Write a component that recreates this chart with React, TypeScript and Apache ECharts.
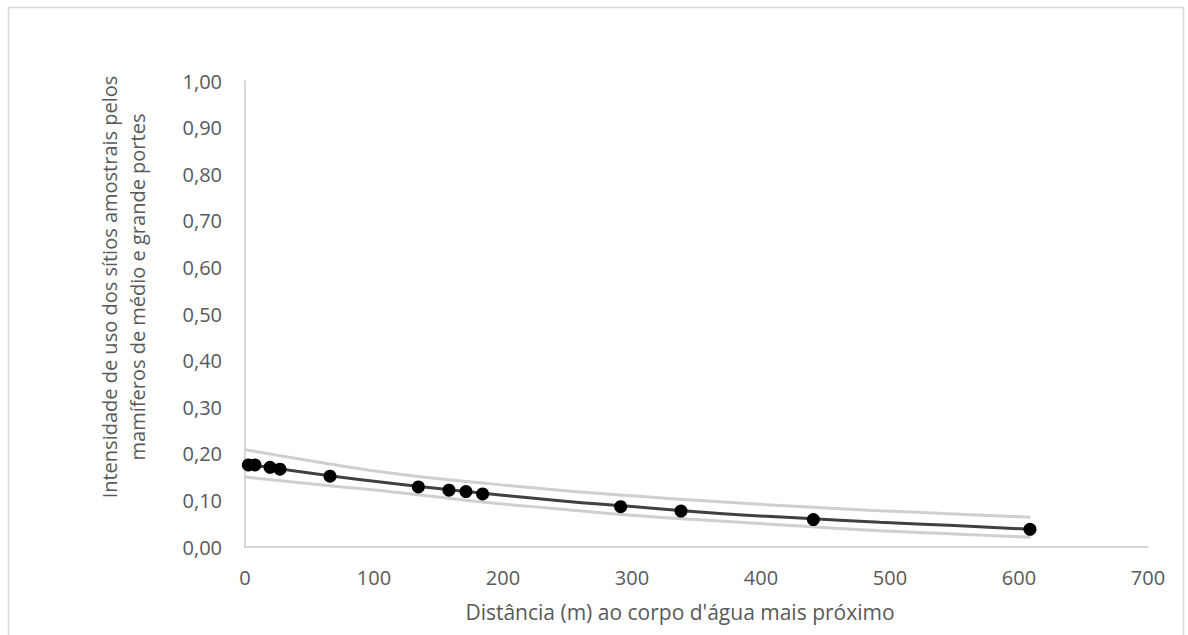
import React, { useEffect, useRef } from "react";
import * as echarts from "echarts";

const pointX = [2.6, 7.7, 19.4, 27.1, 65.9, 134.4, 158.1, 171.3, 184.2, 291.2, 338, 440.6, 608.5];
const pointY = [0.176, 0.176, 0.171, 0.167, 0.152, 0.129, 0.122, 0.119, 0.114, 0.0865, 0.077, 0.059, 0.038];

const curveX = [0, 60, 120, 182, 244, 300, 368, 430, 492, 550, 609];
const fitY = [0.178, 0.155, 0.1345, 0.116, 0.0994, 0.087, 0.072, 0.062, 0.053, 0.046, 0.038];
const upperY = [0.209, 0.181, 0.156, 0.138, 0.122, 0.11, 0.097, 0.087, 0.078, 0.071, 0.064];
const lowerY = [0.15, 0.133, 0.1166, 0.097, 0.0815, 0.068, 0.0558, 0.045, 0.035, 0.028, 0.021];

const xTitle = "Distância (m) ao corpo d'água mais próximo";
const yTitle = "Intensidade de uso dos sítios amostrais pelos\nmamíferos de médio e grande portes";

const FONT = "'Open Sans', sans-serif";
const TXT = "#595959";

export default function App() {
  const ref = useRef<HTMLDivElement>(null);
  useEffect(() => {
    const chart = echarts.init(ref.current!, null, { renderer: "svg" });
    const pair = (xs: number[], ys: number[]) => xs.map((x, i) => [x, ys[i]]);
    chart.setOption({
      animation: false,
      backgroundColor: "#ffffff",
      grid: { left: 245, right: 40, top: 81, bottom: 88 },
      xAxis: {
        type: "value",
        min: 0,
        max: 700,
        interval: 100,
        axisLine: { show: true, lineStyle: { color: "#c8c8c8", width: 1.5 } },
        axisTick: { show: false },
        splitLine: { show: false },
        axisLabel: { color: TXT, fontFamily: FONT, fontSize: 20, margin: 20 },
      },
      yAxis: {
        type: "value",
        min: 0,
        max: 1,
        interval: 0.1,
        axisLine: { show: true, lineStyle: { color: "#c8c8c8", width: 1.5 } },
        axisTick: { show: false },
        splitLine: { show: false },
        axisLabel: {
          color: TXT,
          fontFamily: FONT,
          fontSize: 20,
          margin: 23,
          formatter: (v: number) => v.toFixed(2).replace(".", ","),
        },
      },
      graphic: [
        {
          type: "rect",
          shape: { x: 8.5, y: 7.5, width: 1175, height: 660 },
          style: { fill: "none", stroke: "#d9d9d9", lineWidth: 1.5 },
          silent: true,
        },
        {
          type: "text",
          x: 680,
          y: 612,
          style: {
            text: xTitle,
            fill: TXT,
            font: `21px ${FONT}`,
            textAlign: "center",
            textVerticalAlign: "middle",
          },
        },
        {
          type: "text",
          x: 123,
          y: 287,
          rotation: Math.PI / 2,
          style: {
            text: yTitle,
            fill: TXT,
            font: `20px ${FONT}`,
            lineHeight: 28,
            textAlign: "center",
            textVerticalAlign: "middle",
          },
        },
      ],
      series: [
        {
          type: "line",
          data: pair(curveX, upperY),
          smooth: true,
          showSymbol: false,
          lineStyle: { color: "#cfcfcf", width: 3 },
          z: 1,
        },
        {
          type: "line",
          data: pair(curveX, lowerY),
          smooth: true,
          showSymbol: false,
          lineStyle: { color: "#cfcfcf", width: 3 },
          z: 1,
        },
        {
          type: "line",
          data: pair(curveX, fitY),
          smooth: true,
          showSymbol: false,
          lineStyle: { color: "#404040", width: 3 },
          z: 2,
        },
        {
          type: "scatter",
          data: pair(pointX, pointY),
          symbol: "circle",
          symbolSize: 13,
          itemStyle: { color: "#000000", opacity: 1 },
          z: 3,
        },
      ],
    });
    return () => chart.dispose();
  }, []);
  return (
    <div
      ref={ref}
      style={{ position: "absolute", left: 0, top: 0, width: 1188, height: 635 }}
    />
  );
}
